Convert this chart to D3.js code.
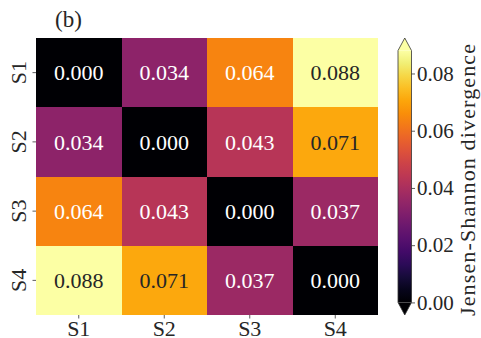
<!DOCTYPE html>
<html>
<head>
<meta charset="utf-8">
<script src="https://cdn.jsdelivr.net/npm/d3@7"></script>
<style>
  html, body { margin: 0; padding: 0; background: #fff; }
  svg { display: block; }
</style>
</head>
<body>
<svg id="chart" width="481" height="338"></svg>
<script>
// Pairwise Jensen-Shannon divergence between four samples
const samples = ["S1", "S2", "S3", "S4"];
const rowS1 = [0.000, 0.034, 0.064, 0.088];
const rowS2 = [0.034, 0.000, 0.043, 0.071];
const rowS3 = [0.064, 0.043, 0.000, 0.037];
const rowS4 = [0.088, 0.071, 0.037, 0.000];
const matrix = [rowS1, rowS2, rowS3, rowS4];
const colorbarTicks = [0.00, 0.02, 0.04, 0.06, 0.08];
const panelTitle = "(b)";
const colorbarLabel = "Jensen-Shannon divergence";

const FONT = "'Liberation Serif', 'DejaVu Serif', serif";
const svg = d3.select("#chart");

const plot = { left: 36, right: 378, top: 38, bottom: 315 };
const vmin = 0;
const vmax = d3.max(matrix.flat());

const x = d3.scaleBand().domain(samples).range([plot.left, plot.right]).padding(0);
const y = d3.scaleBand().domain(samples).range([plot.top, plot.bottom]).padding(0);
const color = d3.scaleSequential(d3.interpolateInferno).domain([vmin, vmax]);

const cells = [];
matrix.forEach((row, i) => row.forEach((v, j) => cells.push({ r: samples[i], c: samples[j], v })));

// heatmap cells
svg.append("g").selectAll("rect").data(cells).join("rect")
  .attr("x", d => x(d.c))
  .attr("y", d => y(d.r))
  .attr("width", x.bandwidth())
  .attr("height", y.bandwidth())
  .attr("fill", d => color(d.v))
  .attr("shape-rendering", "crispEdges");

// annotations: light text on dark cells, dark text on light cells
function luminance(c) {
  const rgb = d3.rgb(c);
  const f = ch => { ch /= 255; return ch <= 0.03928 ? ch / 12.92 : Math.pow((ch + 0.055) / 1.055, 2.4); };
  return 0.2126 * f(rgb.r) + 0.7152 * f(rgb.g) + 0.0722 * f(rgb.b);
}
svg.append("g").selectAll("text").data(cells).join("text")
  .attr("x", d => x(d.c) + x.bandwidth() / 2)
  .attr("y", d => y(d.r) + y.bandwidth() / 2)
  .attr("dy", "0.35em")
  .attr("text-anchor", "middle")
  .style("font-family", FONT)
  .style("font-size", "22px")
  .attr("fill", d => luminance(color(d.v)) > 0.408 ? "#262626" : "#ffffff")
  .text(d => d.v.toFixed(3));

// axes
const xAxis = svg.append("g")
  .attr("transform", `translate(0,${plot.bottom})`)
  .call(d3.axisBottom(x).tickSize(3.5).tickPadding(1.5));
xAxis.select(".domain").remove();
xAxis.selectAll(".tick line").attr("stroke", "#333").attr("stroke-width", 0.8);
xAxis.selectAll(".tick text")
  .style("font-family", FONT)
  .style("font-size", "22px")
  .attr("fill", "#262626");

const yAxis = svg.append("g")
  .attr("transform", `translate(${plot.left},0)`)
  .call(d3.axisLeft(y).tickSize(3.5).tickPadding(3));
yAxis.select(".domain").remove();
yAxis.selectAll(".tick line").attr("stroke", "#333").attr("stroke-width", 0.8);
yAxis.selectAll(".tick text")
  .style("font-family", FONT)
  .style("font-size", "22px")
  .attr("fill", "#262626")
  .attr("text-anchor", "middle")
  .attr("x", null)
  .attr("transform", "translate(-18,0) rotate(-90)")
  .attr("dy", "0.35em");

// panel title
svg.append("text")
  .attr("x", 55)
  .attr("y", 27)
  .style("font-family", FONT)
  .style("font-size", "23px")
  .attr("fill", "#262626")
  .text(panelTitle);

// colorbar with triangular extensions at both ends
const cb = { x: 398, w: 13.5, top: 38, bottom: 315 };
const extLen = (cb.bottom - cb.top) / 1.1 * 0.05;
const cbScale = d3.scaleLinear().domain([vmin, vmax]).range([cb.bottom - extLen, cb.top + extLen]);

const defs = svg.append("defs");
const grad = defs.append("linearGradient")
  .attr("id", "cbgrad")
  .attr("x1", 0).attr("y1", 1).attr("x2", 0).attr("y2", 0);
d3.range(0, 1.0001, 0.05).forEach(t => {
  grad.append("stop").attr("offset", t).attr("stop-color", d3.interpolateInferno(t));
});

svg.append("rect")
  .attr("x", cb.x)
  .attr("y", cbScale(vmax))
  .attr("width", cb.w)
  .attr("height", cbScale(vmin) - cbScale(vmax))
  .attr("fill", "url(#cbgrad)");

svg.append("path")
  .attr("d", `M${cb.x},${cbScale(vmax)} L${cb.x + cb.w / 2},${cb.top} L${cb.x + cb.w},${cbScale(vmax)} Z`)
  .attr("fill", d3.interpolateInferno(1));
svg.append("path")
  .attr("d", `M${cb.x},${cbScale(vmin)} L${cb.x + cb.w / 2},${cb.bottom} L${cb.x + cb.w},${cbScale(vmin)} Z`)
  .attr("fill", d3.interpolateInferno(0));

svg.append("path")
  .attr("d", `M${cb.x},${cbScale(vmax)} L${cb.x + cb.w / 2},${cb.top} L${cb.x + cb.w},${cbScale(vmax)}
              L${cb.x + cb.w},${cbScale(vmin)} L${cb.x + cb.w / 2},${cb.bottom} L${cb.x},${cbScale(vmin)} Z`)
  .attr("fill", "none")
  .attr("stroke", "#333")
  .attr("stroke-width", 0.8);

const cbAxis = svg.append("g")
  .attr("transform", `translate(${cb.x + cb.w},0)`)
  .call(d3.axisRight(cbScale).tickValues(colorbarTicks).tickFormat(d3.format(".2f")).tickSize(3.5).tickPadding(2));
cbAxis.select(".domain").remove();
cbAxis.selectAll(".tick line").attr("stroke", "#333").attr("stroke-width", 0.8);
cbAxis.selectAll(".tick text")
  .style("font-family", FONT)
  .style("font-size", "21px")
  .attr("fill", "#262626");

svg.append("text")
  .attr("transform", `translate(467,180) rotate(-90)`)
  .attr("text-anchor", "middle")
  .attr("dy", "0.35em")
  .style("font-family", FONT)
  .style("font-size", "22px")
  .attr("textLength", 272)
  .attr("lengthAdjust", "spacing")
  .attr("fill", "#262626")
  .text(colorbarLabel);
</script>
</body>
</html>
